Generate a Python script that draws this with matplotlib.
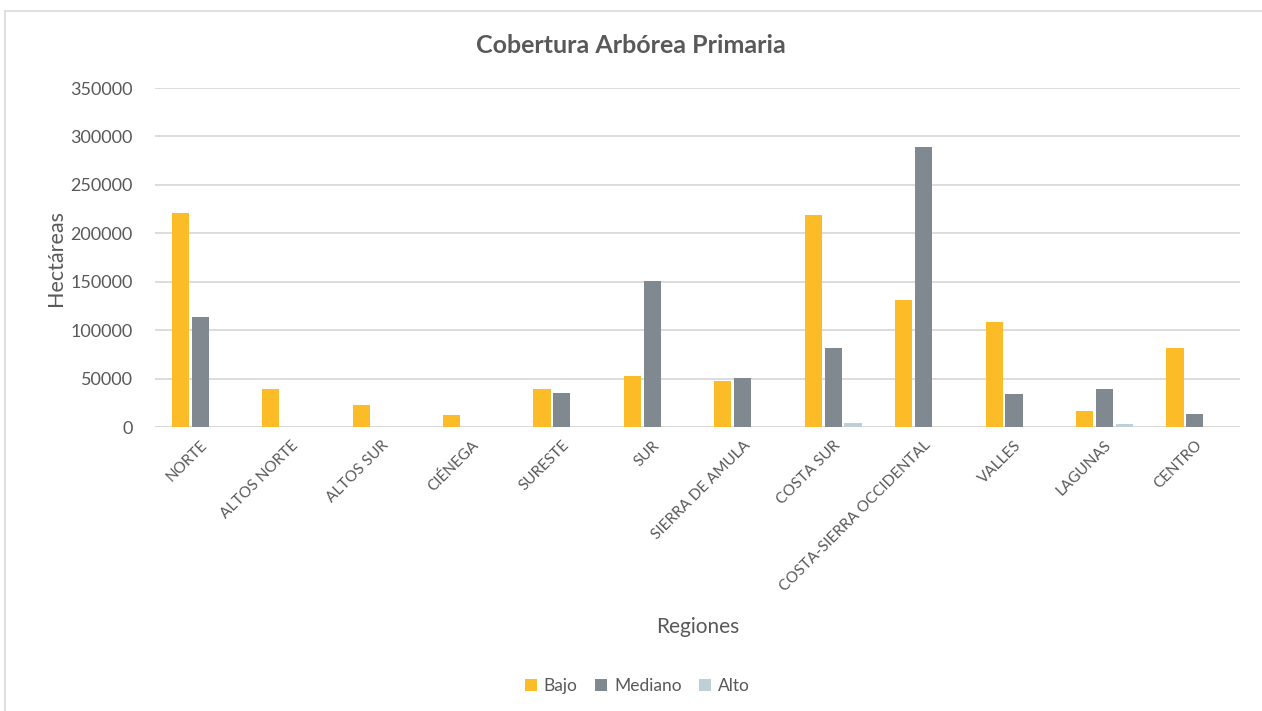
import matplotlib.pyplot as plt
import numpy as np
from matplotlib.patches import Rectangle

plt.rcParams['font.family'] = ['Lato', 'DejaVu Sans']

regiones = ["NORTE", "ALTOS NORTE", "ALTOS SUR", "CIÉNEGA", "SURESTE", "SUR",
            "SIERRA DE AMULA", "COSTA SUR", "COSTA-SIERRA OCCIDENTAL", "VALLES",
            "LAGUNAS", "CENTRO"]
bajo = [221000, 39300, 22700, 12400, 39300, 52700, 47200, 219000, 131000, 108000, 16800, 81600]
mediano = [113600, 0, 0, 0, 34800, 150800, 50600, 81600, 289000, 34000, 39300, 13700]
alto = [0, 0, 0, 0, 0, 0, 0, 4400, 0, 0, 3400, 0]

gris = "#595959"

fig = plt.figure(figsize=(12.62, 7.11), dpi=100)
# marco del grafico
fig.patches.append(Rectangle((0.004, -0.01), 1.1, 0.995, transform=fig.transFigure,
                             fill=False, edgecolor="#D9D9D9", linewidth=1.2))
ax = fig.add_axes([0.1228, 0.3994, 0.8598, 0.4768])

x = np.arange(len(regiones))
w = 0.19
ax.bar(x - 0.22, bajo, w, color="#FBBC28", label="Bajo", zorder=3)
ax.bar(x, mediano, w, color="#7F898F", label="Mediano", zorder=3)
ax.bar(x + 0.22, alto, w, color="#BFCFD6", label="Alto", zorder=3)

ax.set_xlim(-0.5, len(regiones) - 0.5)
ax.set_ylim(0, 350000)
ax.set_yticks(range(0, 350001, 50000))
ax.yaxis.grid(True, color="#D9D9D9", linewidth=1.3, zorder=0)
ax.set_axisbelow(True)
for s in ax.spines.values():
    s.set_visible(False)
ax.axhline(0, color="#D9D9D9", linewidth=1.3, zorder=1)
ax.tick_params(length=0, labelcolor=gris)
ax.tick_params(axis='y', labelsize=13, pad=16)
ax.tick_params(axis='x', pad=8)
ax.set_xticks(x)
ax.set_xticklabels(regiones, rotation=45, ha="right", rotation_mode="anchor", fontsize=11)

ax.set_ylabel("Hectáreas", color=gris, fontsize=15.5, labelpad=3)
ax.set_xlabel("Regiones", color=gris, fontsize=15)
ax.xaxis.set_label_coords(0.5, -0.56)
fig.suptitle("Cobertura Arbórea Primaria", color=gris, fontsize=18, fontweight="bold", y=0.952)

leg = fig.legend(loc="center", bbox_to_anchor=(0.505, 0.035), ncol=3, frameon=False,
                 fontsize=12.5, handlelength=0.7, handleheight=0.7, handletextpad=0.4,
                 columnspacing=1.0)
for t in leg.get_texts():
    t.set_color(gris)

plt.savefig("out.png", dpi=100)
